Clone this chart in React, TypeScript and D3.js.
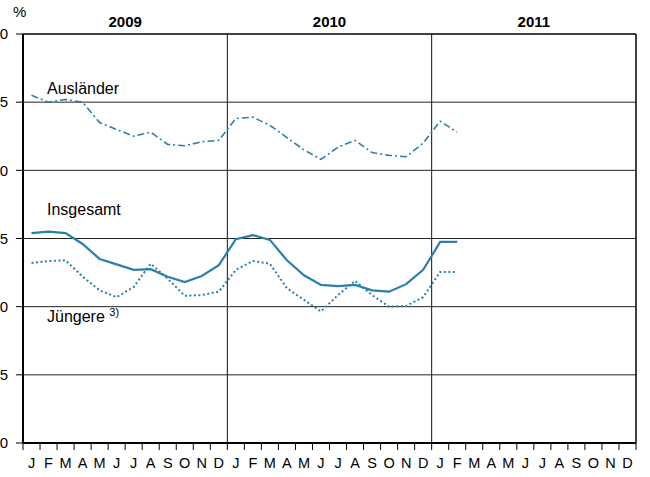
import React from "react";
import * as d3 from "d3";

// months, 2009-2011
const years = ["2009", "2010", "2011"];
const monthLetters = ["J", "F", "M", "A", "M", "J", "J", "A", "S", "O", "N", "D"];
const yTicks = [0, 5, 10, 15, 20, 25, 30];

// values in %, Jan 2009 .. Feb 2011
const auslaender = [25.5, 25.0, 25.2, 25.0, 23.5, 23.0, 22.5, 22.8, 21.9, 21.8, 22.1, 22.2,
  23.8, 23.9, 23.3, 22.4, 21.5, 20.8, 21.7, 22.2, 21.3, 21.1, 21.0, 22.0, 23.6, 22.8];
const insgesamt = [15.4, 15.5, 15.4, 14.6, 13.5, 13.1, 12.7, 12.75, 12.2, 11.8, 12.25, 13.05,
  14.95, 15.25, 14.9, 13.4, 12.3, 11.6, 11.5, 11.6, 11.2, 11.1, 11.65, 12.7, 14.75, 14.75];
const juengere = [13.2, 13.35, 13.4, 12.2, 11.2, 10.7, 11.45, 13.15, 12.05, 10.8, 10.85, 11.1,
  12.7, 13.35, 13.15, 11.35, 10.5, 9.65, 10.85, 11.9, 10.85, 10.0, 10.05, 10.7, 12.55, 12.55];

const W = 650;
const H = 477;
const margin = { top: 34, right: 14, bottom: 34, left: 23 };
const blue = "#2b7fad";

export default function App() {
  const innerW = W - margin.left - margin.right;
  const innerH = H - margin.top - margin.bottom;
  const nMonths = years.length * 12;

  const x = d3.scaleLinear().domain([0, nMonths]).range([0, innerW]);
  const y = d3.scaleLinear().domain([0, 30]).range([innerH, 0]);

  const line = d3
    .line<number>()
    .x((_, i) => x(i + 0.5))
    .y(d => y(d));

  const months = d3.range(nMonths);

  return (
    <svg
      width={W}
      height={H}
      style={{ position: "absolute", left: 0, top: 0, fontFamily: "Liberation Sans, Arial, sans-serif" }}
    >
      <text x={13} y={17} fontSize={15}>%</text>
      <g transform={`translate(${margin.left},${margin.top})`}>
        {/* horizontal grid */}
        {yTicks.slice(1, -1).map(t => (
          <line key={t} x1={0} x2={innerW} y1={y(t)} y2={y(t)} stroke="#222" strokeWidth={1} />
        ))}
        {/* year dividers */}
        {years.slice(1).map((yr, i) => (
          <line key={yr} x1={x((i + 1) * 12)} x2={x((i + 1) * 12)} y1={0} y2={innerH} stroke="#111" strokeWidth={1} />
        ))}
        {/* frame */}
        <line x1={0} x2={innerW} y1={0} y2={0} stroke="#000" strokeWidth={1.5} />
        <line x1={innerW} x2={innerW} y1={0} y2={innerH} stroke="#000" strokeWidth={1.5} />
        <line x1={0} x2={0} y1={0} y2={innerH} stroke="#000" strokeWidth={2} />
        <line x1={0} x2={innerW} y1={innerH} y2={innerH} stroke="#000" strokeWidth={2} />

        {/* y ticks + labels */}
        {yTicks.map(t => (
          <g key={t} transform={`translate(0,${y(t)})`}>
            <line x1={-7} x2={0} stroke="#000" strokeWidth={1} />
            <text x={-15} dy="0.35em" textAnchor="end" fontSize={15}>{t}</text>
          </g>
        ))}

        {/* month ticks + labels */}
        {d3.range(nMonths + 1).map(i => (
          <line key={"t" + i} x1={x(i)} x2={x(i)} y1={innerH} y2={innerH + 7} stroke="#000" strokeWidth={1} />
        ))}
        {months.map(i => (
          <text key={"m" + i} x={x(i + 0.5)} y={innerH + 25} textAnchor="middle" fontSize={14.5}>
            {monthLetters[i % 12]}
          </text>
        ))}

        {/* year labels */}
        {years.map((yr, i) => (
          <text key={yr} x={x(i * 12 + 6)} y={-7} textAnchor="middle" fontSize={15} fontWeight="bold">
            {yr}
          </text>
        ))}

        {/* series */}
        <path d={line(auslaender) || ""} fill="none" stroke={blue} strokeWidth={1.6} strokeDasharray="7,3,2,3" />
        <path d={line(insgesamt) || ""} fill="none" stroke={blue} strokeWidth={2.2} />
        <path d={line(juengere) || ""} fill="none" stroke={blue} strokeWidth={2} strokeDasharray="2,2.5" />

        {/* series labels */}
        <text x={24} y={60} fontSize={16}>Ausländer</text>
        <text x={24} y={181} fontSize={16}>Insgesamt</text>
        <text x={24} y={288} fontSize={16}>
          Jüngere <tspan fontSize={11} dy={-6}>3)</tspan>
        </text>
      </g>
    </svg>
  );
}
